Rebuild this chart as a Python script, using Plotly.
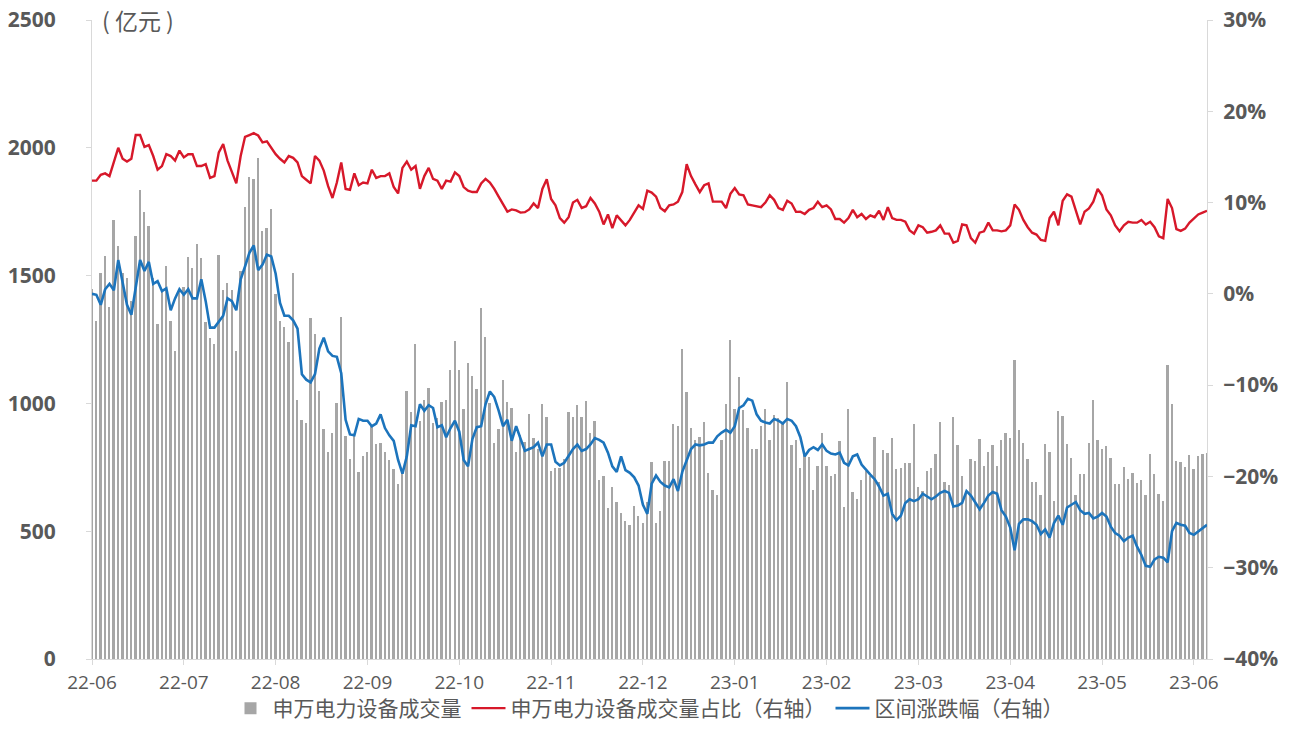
import plotly.graph_objects as go

tick_labels = ["22-06", "22-07", "22-08", "22-09", "22-10", "22-11", "22-12",
               "23-01", "23-02", "23-03", "23-04", "23-05", "23-06"]

volume = [
    1449, 1322, 1510, 1578, 1377, 1717, 1616, 1510, 1490, 1400, 1656, 1833, 1748, 1694, 1490, 1309, 1442, 1537, 1322, 1204, 1442,
    1456, 1571, 1531, 1622, 1567, 1320, 1255, 1231, 1581, 1442, 1470, 1442, 1204, 1517, 1769, 1884, 1877, 1962, 1676, 1687, 1762,
    1429, 1322, 1299, 1241, 1510, 1014, 936, 925, 1333, 1272, 1050, 901, 810, 885, 1000, 1340, 871, 783, 871, 732, 796, 810, 912, 841, 844,
    810, 780, 745, 683, 735, 1048, 966, 1231, 932, 1014, 1061, 925, 942, 1007, 1014, 1132, 1245,
    1132, 980, 1157, 1109, 1055, 1374, 1259, 1000, 844, 898, 1091, 1007, 983, 810, 878, 850, 959, 864, 823, 996, 946, 735, 749, 749,
    783, 966, 946, 993, 946, 1010, 885, 932, 701, 715, 592, 674, 613, 572, 538, 524, 599, 560, 531,
    613, 769, 531, 578, 776, 776, 918, 912, 1214, 1045, 905, 857, 868, 928, 728, 660, 640, 857, 996, 1249, 980, 1102, 973, 905,
    823, 823, 912, 980, 857, 955, 942, 928, 1082, 837, 857, 749, 806, 792, 660, 755,
    885,
    755, 715, 724, 851, 596, 980, 653, 626, 701, 735, 715, 868, 694, 819, 806, 864, 742, 749, 765, 765, 918, 674, 656, 735, 746,
    803, 928, 694, 681, 946, 837, 715, 656, 783, 776, 860, 755, 810, 837, 755, 857,
    885,
    864, 1170, 895, 846, 782, 694, 691, 642, 841, 810, 619, 969, 950, 841, 787, 640, 724, 724, 844, 1014, 855, 820, 833, 787,
    683, 683, 751, 705, 728, 687, 700, 642, 803, 724, 647, 619, 1150, 996, 776, 769, 751, 800, 742, 796, 803, 805,
]

share = [
    12.4, 12.4, 13.05, 13.2, 12.9, 14.5, 16.0, 14.8, 14.5, 14.8, 17.4, 17.4, 16.1, 16.3, 15.1, 13.6, 14.0, 15.3, 15.1, 14.6, 15.7,
    14.95, 15.3, 15.3, 14.0, 14.0, 14.2, 12.7, 12.9, 15.5, 16.4, 14.6, 13.4, 12.1, 15.1, 17.2, 17.4, 17.6, 17.35, 16.6, 16.7,
    16.0,
    15.3, 14.8, 14.4, 15.1, 14.9, 14.4, 12.9, 12.5, 12.1, 15.1, 14.6, 13.5, 11.8, 10.5, 12.2, 14.4, 11.5, 11.4, 13.2, 11.9, 12.2,
    12.1, 13.6, 12.7, 12.9, 12.9, 13.2, 11.7, 11.0, 13.8, 14.5, 13.6, 14.0, 11.5, 12.9, 13.8, 12.6, 12.4, 11.5, 12.4, 12.3,
    13.3,
    12.9, 11.7, 11.3, 11.15, 11.15, 12.1, 12.6, 12.2, 11.5, 10.65, 9.8, 9.0, 9.25, 9.15, 8.9, 8.95, 9.25, 9.9, 9.4, 11.5, 12.55,
    10.4, 9.7, 8.3, 7.8, 8.4, 10.0, 10.3, 9.4, 9.6, 10.5, 9.9, 9.0, 7.6, 8.7, 7.2, 8.6, 8.0, 7.5, 8.1, 8.9, 9.7,
    9.3,
    11.3, 11.1, 10.65, 9.4, 9.05, 9.7, 9.8, 10.1, 11.15, 14.2, 12.9, 12.0, 11.15, 11.9, 12.1, 10.1, 10.1, 10.1, 9.4, 10.95,
    11.6, 10.9, 10.8, 9.8, 9.7, 9.6, 9.5, 10.0, 10.8, 10.3, 9.4, 9.2, 10.2, 9.9, 8.98, 9.0, 8.75, 9.2, 9.4, 10.1, 9.5,
    9.7, 9.25, 8.2, 8.2, 7.8, 8.3, 9.2, 8.4, 8.75, 8.2, 8.6, 8.4, 9.1, 8.1, 9.5, 8.3, 8.1, 8.1, 7.9, 6.95, 6.6,
    7.5, 7.3, 6.7, 6.8, 6.95, 7.5, 6.6, 6.6, 5.6, 5.8, 7.6, 7.5, 6.1, 5.6, 6.7, 6.85, 7.8, 6.95, 6.95, 6.85, 6.95,
    7.5, 9.8, 9.2, 8.1, 7.3, 6.7, 6.5, 5.9, 5.8, 8.3, 9.0, 7.5, 10.2, 10.9, 10.65, 9.05, 7.6, 9.0, 9.35, 10.1, 11.5,
    10.8, 9.25, 8.6, 7.5, 6.85, 7.5, 7.9, 7.8, 7.8, 8.1, 7.6, 7.9, 7.3, 6.3, 6.1, 10.4, 9.4, 7.1, 6.9, 7.15, 7.8,
    8.2, 8.7, 8.9, 9.1,
]

change = [
    0.0, -0.1, -1.2, 0.5, 1.1, 0.4, 3.7, 1.2, -1.2, -2.3, 0.7, 3.7, 2.5, 3.5, 1.1, 1.4, 0.3, 0.6, -1.8, -0.5, 0.5,
    -0.1, 0.5, -0.5, -0.5, 1.6, -0.8, -3.7, -3.7, -3.1, -2.4, -0.5, -0.8, -1.8, 1.6, 3.0, 4.5, 5.3, 2.6, 3.2, 4.3, 4.1,
    2.2, -1.0, -2.4, -2.4, -2.9, -3.8, -8.8, -9.4, -9.7, -8.8, -6.0, -4.8, -6.3, -6.8, -6.9, -8.7, -13.8, -15.4, -15.5, -13.7, -13.9,
    -13.9, -14.5, -14.2, -13.2, -14.7, -15.5, -16.1, -18.2, -19.7, -17.8, -14.4, -14.5, -12.1, -12.8, -12.2, -12.5, -14.6, -14.4, -15.7, -14.7, -13.9,
    -15.1, -18.2, -18.9, -15.9, -14.6, -14.5, -12.1, -10.7, -11.3, -12.8, -14.5, -13.8, -16.1, -14.5, -15.9, -17.2, -17.0, -16.8, -16.3, -17.8, -16.5,
    -16.5, -18.4, -18.8, -18.5, -17.8, -17.0, -16.5, -17.2, -17.0, -16.5, -15.8, -16.0, -16.3, -17.4, -18.9, -19.5, -17.8, -19.3, -19.6, -20.1, -21.0,
    -23.1, -24.1, -20.8, -19.9, -20.6, -21.0, -21.2, -20.3, -21.6, -19.5, -18.2, -17.0, -16.5, -16.6, -16.5, -16.3, -16.3, -15.6, -15.2, -14.9, -15.2,
    -14.5, -12.5, -12.2, -11.5, -11.7, -13.2, -13.9, -14.1, -14.2, -13.7, -13.9, -14.2, -13.7, -13.9, -14.5, -15.7, -17.8, -17.1, -16.8, -17.1, -16.5,
    -17.2, -17.5, -17.6, -17.4, -18.5, -18.8, -17.8, -17.6, -18.7, -19.3, -19.8, -20.3, -21.1, -22.1, -21.9, -24.1, -24.8, -24.3, -22.9, -22.5, -22.7,
    -22.5, -21.9, -22.2, -22.5, -22.2, -21.8, -21.6, -21.8, -23.3, -23.2, -22.9, -21.6, -22.1, -22.9, -23.6, -22.9, -22.1, -21.7, -21.9, -23.7, -24.4,
    -25.6, -28.1, -25.2, -24.7, -24.7, -24.9, -25.3, -26.3, -25.8, -26.7, -25.1, -24.3, -25.3, -23.4, -23.1, -22.8, -23.7, -24.1, -24.0, -24.6, -24.4,
    -24.0, -24.4, -25.5, -26.2, -26.5, -27.1, -26.7, -26.5, -27.7, -28.6, -29.8, -29.9, -29.1, -28.8, -28.9, -29.4, -26.0, -25.1, -25.3, -25.4, -26.2,
    -26.4, -26.0, -25.7, -25.3,
]

n = max(len(volume), len(share), len(change))
tick_pos = [21 * k for k in range(len(tick_labels))]

TXT = "#595959"
AX = "#D9D9D9"
FONT = "Noto Sans CJK SC, Open Sans, sans-serif"
NUMFONT = "Open Sans, sans-serif"

fig = go.Figure()
fig.add_trace(go.Bar(
    x=list(range(len(volume))), y=volume, name="申万电力设备成交量",
    marker=dict(color="#A6A6A6", line=dict(width=0)), width=0.42, yaxis="y",
))
fig.add_trace(go.Scatter(
    x=list(range(len(share))), y=share, name="申万电力设备成交量占比（右轴）",
    mode="lines", line=dict(color="#D7182A", width=2.4), yaxis="y2",
))
fig.add_trace(go.Scatter(
    x=list(range(len(change))), y=change, name="区间涨跌幅（右轴）",
    mode="lines", line=dict(color="#1C74BC", width=2.6), yaxis="y2",
))

fig.update_layout(
    width=1297, height=729,
    autosize=False,
    margin=dict(l=92, r=90, t=20, b=70, autoexpand=False),
    paper_bgcolor="white", plot_bgcolor="white",
    font=dict(family=FONT, color=TXT),
    bargap=0,
    showlegend=True,
    legend=dict(orientation="h", x=0.5, xanchor="center", xref="container",
                y=-0.006, yanchor="bottom", yref="container",
                font=dict(size=21, color=TXT, family=FONT), itemwidth=34,
                tracegroupgap=0, bgcolor="rgba(0,0,0,0)"),
    xaxis=dict(
        range=[0, n - 1], tickmode="array", tickvals=tick_pos, ticktext=tick_labels,
        showline=True, linecolor=AX, linewidth=1, ticks="outside", ticklen=5, tickcolor=AX,
        showgrid=False, zeroline=False, ticklabelstandoff=1,
        tickfont=dict(size=19, color=TXT, family=NUMFONT),
    ),
    yaxis=dict(
        range=[0, 2500], dtick=500, tick0=0, showgrid=False, zeroline=False,
        showline=True, linecolor=AX, linewidth=1, ticks="outside", ticklen=5, tickcolor=AX,
        ticklabelstandoff=26,
        tickfont=dict(size=21, color=TXT, family=NUMFONT, weight="bold"),
    ),
    yaxis2=dict(
        range=[-40, 30], dtick=10, tick0=0, overlaying="y", side="right", ticksuffix="%",
        showgrid=False, zeroline=False,
        showline=True, linecolor=AX, linewidth=1, ticks="outside", ticklen=5, tickcolor=AX,
        ticklabelstandoff=6,
        tickfont=dict(size=21, color=TXT, family=NUMFONT, weight="bold"),
    ),
    annotations=[dict(
        text="( 亿元 )", xref="paper", yref="paper", x=0.007, y=1.0, xanchor="left", yanchor="middle",
        showarrow=False, font=dict(size=23, color=TXT, family=FONT),
    )],
)

fig.write_html("out.html", config={"displayModeBar": False},
               post_script="document.body.style.margin='0px';")
